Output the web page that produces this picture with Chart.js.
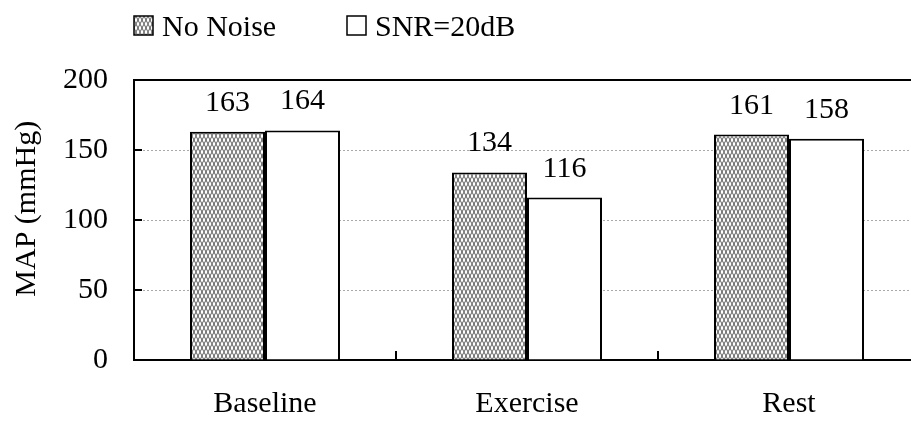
<!DOCTYPE html>
<html>
<head>
<meta charset="utf-8">
<script src="https://cdn.jsdelivr.net/npm/chart.js"></script>
<style>
  html, body { margin: 0; padding: 0; overflow: hidden; background: #fff; }
</style>
</head>
<body>
<canvas id="mapChart" width="930" height="425"></canvas>
<script>
const categories = ['Baseline', 'Exercise', 'Rest'];
const seriesNames = ['No Noise', 'SNR=20dB'];
const noNoise = [163, 134, 161];
const snr20 = [164, 116, 158];
const yTicks = [0, 50, 100, 150, 200];

Chart.defaults.font.family = "'Liberation Serif', 'Times New Roman', serif";
Chart.defaults.font.size = 30;
Chart.defaults.color = '#000';

// grey diamond hatch like the original fill
function hatch() {
  const c = document.createElement('canvas');
  c.width = 4; c.height = 8;
  const g = c.getContext('2d');
  g.fillStyle = '#fff';
  g.fillRect(0, 0, 4, 8);
  g.strokeStyle = '#5e5e5e';
  g.lineWidth = 1;
  g.beginPath();
  g.moveTo(0, 0); g.lineTo(4, 8);
  g.moveTo(4, 0); g.lineTo(0, 8);
  g.stroke();
  return g.createPattern(c, 'repeat');
}

const valueLabels = {
  id: 'valueLabels',
  afterDatasetsDraw(chart) {
    const ctx = chart.ctx;
    ctx.save();
    ctx.font = "30px 'Liberation Serif', serif";
    ctx.fillStyle = '#000';
    ctx.textAlign = 'center';
    ctx.textBaseline = 'alphabetic';
    chart.data.datasets.forEach((ds, i) => {
      chart.getDatasetMeta(i).data.forEach((bar, j) => {
        ctx.fillText(String(ds.data[j]), bar.x, bar.y - 21);
      });
    });
    ctx.restore();
  }
};

// top border + inward tick marks
const frame = {
  id: 'frame',
  afterDatasetsDraw(chart) {
    const { ctx, chartArea: a, scales: { x, y } } = chart;
    ctx.save();
    ctx.strokeStyle = '#000';
    ctx.lineWidth = 2;
    ctx.beginPath();
    ctx.moveTo(a.left, a.top); ctx.lineTo(a.right, a.top); ctx.lineTo(a.right, a.bottom);
    yTicks.slice(1, -1).forEach(v => {
      const py = y.getPixelForValue(v);
      ctx.moveTo(a.left, py); ctx.lineTo(a.left + 8, py);
    });
    for (let i = 0; i < categories.length - 1; i++) {
      const px = (x.getPixelForValue(i) + x.getPixelForValue(i + 1)) / 2;
      ctx.moveTo(px, a.bottom); ctx.lineTo(px, a.bottom - 9);
    }
    ctx.stroke();
    ctx.restore();
  }
};

const topLegend = {
  id: 'topLegend',
  afterDraw(chart) {
    const ctx = chart.ctx;
    const xs = [134, 347];
    ctx.save();
    ctx.font = "30px 'Liberation Serif', serif";
    ctx.textBaseline = 'alphabetic';
    chart.data.datasets.forEach((ds, i) => {
      ctx.fillStyle = ds.backgroundColor;
      ctx.fillRect(xs[i], 16, 19, 19);
      ctx.strokeStyle = '#000';
      ctx.lineWidth = 1.5;
      ctx.strokeRect(xs[i], 16, 19, 19);
      ctx.fillStyle = '#000';
      ctx.fillText(ds.label, xs[i] + 28, 36);
    });
    ctx.restore();
  }
};

new Chart(document.getElementById('mapChart'), {
  type: 'bar',
  data: {
    labels: categories,
    datasets: [
      { label: seriesNames[0], data: noNoise, backgroundColor: hatch(), borderColor: '#000', borderWidth: 2 },
      { label: seriesNames[1], data: snr20, backgroundColor: '#fff', borderColor: '#000', borderWidth: 2 }
    ]
  },
  options: {
    responsive: false,
    animation: false,
    categoryPercentage: 0.5725,
    barPercentage: 1,
    layout: { padding: { top: 80, right: 10, bottom: 0, left: 0 } },
    plugins: {
      legend: { display: false },
      tooltip: { enabled: false }
    },
    scales: {
      x: {
        grid: { display: false },
        border: { color: '#000', width: 2 },
        ticks: { padding: 18 },
        afterFit(s) { s.height = 65; }
      },
      y: {
        min: 0,
        max: 200,
        afterBuildTicks(s) { s.ticks = yTicks.map(v => ({ value: v })); },
        grid: {
          color: c => (c.tick && c.tick.value > 0 && c.tick.value < 200) ? '#aaaaaa' : 'transparent',
          lineWidth: 1,
          drawTicks: false
        },
        border: { color: '#000', width: 2, dash: [2, 2] },
        ticks: { padding: 26 },
        // leading spaces nudge the rotated title up a little, as in the original
        title: { display: true, text: '   MAP (mmHg)', padding: { top: 9, bottom: 0 } },
        afterFit(s) { s.width = 134; }
      }
    }
  },
  plugins: [valueLabels, frame, topLegend]
});
</script>
</body>
</html>
